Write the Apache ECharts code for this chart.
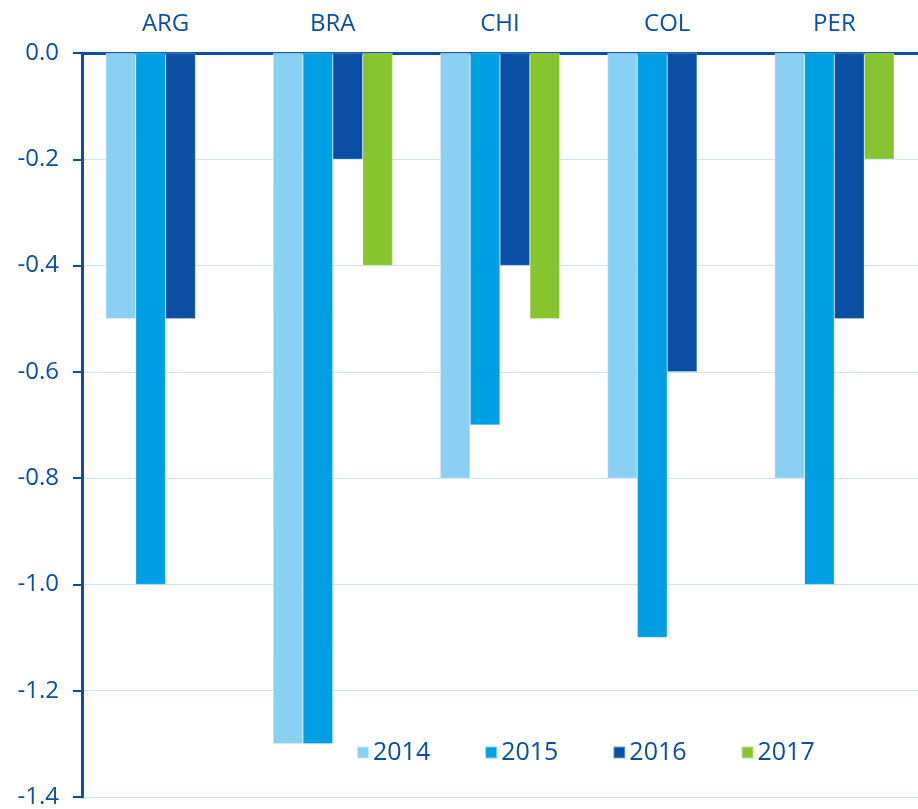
<!DOCTYPE html>
<html>
<head>
<meta charset="utf-8">
<script src="https://cdn.jsdelivr.net/npm/echarts@6/dist/echarts.min.js"></script>
<style>
  html, body { margin: 0; padding: 0; background: #ffffff; }
  #chart { width: 918px; height: 809px; }
</style>
</head>
<body>
<div id="chart"></div>
<script>
"use strict";

const countries = ["ARG", "BRA", "CHI", "COL", "PER"];
const years = ["2014", "2015", "2016", "2017"];
const values2014 = [-0.5, -1.3, -0.8, -0.8, -0.8];
const values2015 = [-1.0, -1.3, -0.7, -1.1, -1.0];
const values2016 = [-0.5, -0.2, -0.4, -0.6, -0.5];
const values2017 = [null, -0.4, -0.5, null, -0.2];

const theme = {
    text: "#0B4FA3",
    axis: "#0B4FA3",
    grid: "#C9E9F7",
    c2014: "#8AD0F2",
    c2015: "#009FE3",
    c2016: "#0A4FA3",
    c2017: "#86C52F"
};

const seriesData = [values2014, values2015, values2016, values2017];
const seriesColors = [theme.c2014, theme.c2015, theme.c2016, theme.c2017];

const chart = echarts.init(document.getElementById("chart"));

chart.setOption({
    animation: false,
    textStyle: { fontFamily: "Open Sans" },
    grid: { left: 82, width: 840, top: 53, bottom: 12, containLabel: false },
    legend: {
        left: 351,
        top: 735,
        itemWidth: 12,
        itemHeight: 12,
        itemGap: 54,
        icon: "rect",
        textStyle: { color: theme.text, fontSize: 25, fontFamily: "Open Sans", padding: [0, 0, 0, -1] },
        data: years
    },
    xAxis: {
        type: "category",
        position: "top",
        data: countries,
        axisLine: { lineStyle: { color: theme.axis, width: 3 } },
        axisTick: { inside: true, length: 7, lineStyle: { color: theme.axis, width: 2 } },
        axisLabel: { color: theme.text, fontSize: 24, margin: 17 }
    },
    yAxis: {
        type: "value",
        min: -1.4,
        max: 0,
        interval: 0.2,
        axisLine: { show: true, lineStyle: { color: theme.axis, width: 3 } },
        axisTick: { show: true, length: 9, lineStyle: { color: theme.axis, width: 2 } },
        axisLabel: {
            color: theme.text,
            fontSize: 24,
            margin: 23,
            formatter: v => v.toFixed(1)
        },
        splitLine: { lineStyle: { color: theme.grid, width: 1 } }
    },
    series: years.map((y, i) => ({
        name: y,
        type: "bar",
        data: seriesData[i],
        barGap: "0%",
        barCategoryGap: "28.5%",
        itemStyle: { color: seriesColors[i], borderColor: "rgba(255,255,255,0.5)", borderWidth: 0.5 }
    }))
});
</script>
</body>
</html>
